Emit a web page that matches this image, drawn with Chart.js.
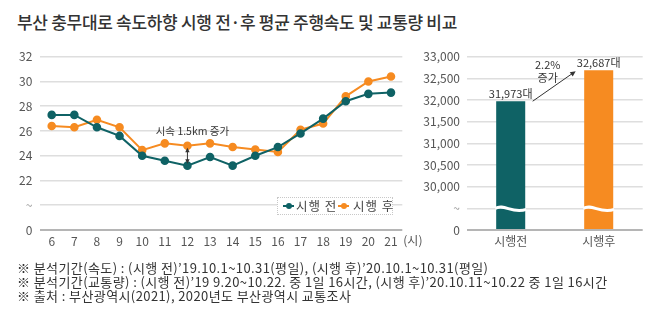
<!DOCTYPE html>
<html><head><meta charset="utf-8">
<script src="https://cdn.jsdelivr.net/npm/chart.js@4.4.1/dist/chart.umd.min.js"></script>
<style>
body{margin:0;background:#fff;width:660px;height:329px;overflow:hidden;position:relative;font-family:"Noto Sans CJK KR","Noto Sans",sans-serif;}
#title{position:absolute;left:17px;top:12px;font-size:17px;font-weight:500;color:#333;white-space:nowrap;letter-spacing:-0.3px;line-height:20px}
#c1{position:absolute;left:0;top:0}
#c2{position:absolute;left:415px;top:0}
#legend{position:absolute;left:277px;top:197px;width:114px;height:16px;border:1px dotted #c8c8c8;background:#fff;font-size:12.5px;color:#444;line-height:16px;white-space:nowrap;letter-spacing:1px}
#legend .mk{position:absolute;top:7px;width:11px;height:2px}
#legend .mk i{position:absolute;left:3px;top:-2px;width:6px;height:6px;border-radius:50%}
#legend .tx{position:absolute;top:0}
#notes{position:absolute;left:17px;top:261px;font-size:13px;line-height:14px;color:#333;white-space:nowrap;letter-spacing:0.4px}
</style></head>
<body>
<div id="title">부산 충무대로 속도하향 시행 전·후 평균 주행속도 및 교통량 비교</div>
<canvas id="c1" width="430" height="260"></canvas>
<canvas id="c2" width="245" height="260"></canvas>
<div id="legend">
  <div class="mk" style="left:5px;background:#0f6265"><i style="background:#0f6265"></i></div>
  <div class="tx" style="left:18px">시행 전</div>
  <div class="mk" style="left:60px;background:#f68b21"><i style="background:#f68b21"></i></div>
  <div class="tx" style="left:75px">시행 후</div>
</div>
<div id="notes">※ 분석기간(속도) : (시행 전)’19.10.1~10.31(평일), (시행 후)’20.10.1~10.31(평일)<br>※ 분석기간(교통량) : (시행 전)’19 9.20~10.22. 중 1일 16시간, (시행 후)’20.10.11~10.22 중 1일 16시간<br>※ 출처 : 부산광역시(2021), 2020년도 부산광역시 교통조사</div>
<script>
// ---- data ----
const hours = ['6','7','8','9','10','11','12','13','14','15','16','17','18','19','20','21'];
const speedBefore = [27.3,27.3,26.3,25.6,24.0,23.6,23.2,23.9,23.2,24.0,24.7,25.8,27.0,28.4,29.0,29.1];
const speedAfter  = [26.4,26.3,26.9,26.3,24.45,25.0,24.8,25.0,24.7,24.5,24.3,26.1,26.6,28.8,30.0,30.4];
const speedTicks  = ['0','~','22','24','26','28','30','32'];
const seriesNames = ['시행 전','시행 후'];
const volumeLabels = ['시행전','시행후'];
const volumeValues = [31973, 32687];
const volumeTicks  = ['0','~','30,000','30,500','31,000','31,500','32,000','32,500','33,000'];

// broken-axis mapping (0 and "~" slots below the visible range)
const speedPos  = v => (v - 18) / 2;       // 22 -> slot 2 ... 32 -> slot 7
const volumePos = v => (v - 29000) / 500;  // 30,000 -> slot 2 ... 33,000 -> slot 8

const FONT = '"Noto Sans CJK KR","Noto Sans",sans-serif';
const TEAL = '#0f6265', ORANGE = '#f68b21';
Chart.defaults.font.family = FONT;

const gridColor = c => c.tick.value === 0 ? '#b5b5b5' : '#dedede';
const gridWidth = c => c.tick.value === 0 ? 2 : 1.5;
const tickColor = c => (c.tick && c.tick.value === 1) ? '#999' : '#555';

function arrowHead(ctx, x, y, ang, size){
  ctx.beginPath();
  ctx.moveTo(x, y);
  ctx.lineTo(x - size*Math.cos(ang - 0.45), y - size*Math.sin(ang - 0.45));
  ctx.lineTo(x - size*Math.cos(ang + 0.45), y - size*Math.sin(ang + 0.45));
  ctx.closePath(); ctx.fill();
}

const speedNotes = {
  id:'speedNotes',
  afterDatasetsDraw(chart){
    const {ctx, scales:{x,y}, chartArea} = chart;
    const i = hours.indexOf('12');
    const px = x.getPixelForValue(i);
    const yA = y.getPixelForValue(speedPos(speedAfter[i]));
    const yB = y.getPixelForValue(speedPos(speedBefore[i]));
    ctx.save();
    ctx.strokeStyle = '#333'; ctx.fillStyle = '#333'; ctx.lineWidth = 1;
    ctx.beginPath(); ctx.moveTo(px, yA + 4); ctx.lineTo(px, yB - 4); ctx.stroke();
    arrowHead(ctx, px, yA + 2, -Math.PI/2, 5);
    arrowHead(ctx, px, yB - 2, Math.PI/2, 5);
    ctx.font = '10.5px ' + FONT; ctx.textAlign = 'center'; ctx.textBaseline = 'middle';
    ctx.fillText('시속 1.5km 증가', px + 5, yA - 15);
    ctx.fillStyle = '#555'; ctx.font = '12px ' + FONT; ctx.textAlign = 'left';
    ctx.fillText('(시)', chartArea.right + 1, chartArea.bottom + 10);
    ctx.restore();
  }
};

new Chart(document.getElementById('c1'), {
  type:'line',
  data:{
    labels: hours,
    datasets:[
      {label:seriesNames[0], data:speedBefore.map(speedPos), borderColor:TEAL, backgroundColor:TEAL, pointBackgroundColor:TEAL, pointBorderColor:TEAL, borderWidth:2, pointRadius:3.3, tension:0},
      {label:seriesNames[1], data:speedAfter.map(speedPos), borderColor:ORANGE, backgroundColor:ORANGE, pointBackgroundColor:ORANGE, pointBorderColor:ORANGE, borderWidth:2, pointRadius:3.3, tension:0}
    ]
  },
  options:{
    responsive:false, animation:false,
    layout:{padding:{top:56.7, left:0, right:27.7, bottom:0}},
    plugins:{legend:{display:false}, tooltip:{enabled:false}},
    scales:{
      x:{offset:true, grid:{display:false, drawTicks:false}, border:{display:false},
         ticks:{padding:4, color:'#555', font:{size:12}}, afterFit(s){ s.height = 30; }},
      y:{min:0, max:7, border:{display:false},
         grid:{drawTicks:false, color:gridColor, lineWidth:gridWidth},
         ticks:{stepSize:1, padding:8, color:tickColor, font:{size:12}, callback:v => speedTicks[v]},
         afterFit(s){ s.width = 40.4; }}
    }
  },
  plugins:[speedNotes]
});

const volumeNotes = {
  id:'volumeNotes',
  afterDatasetsDraw(chart){
    const {ctx, scales:{y}} = chart;
    const meta = chart.getDatasetMeta(0);
    const yBreak = y.getPixelForValue(1);
    ctx.save();
    // wavy break across each bar
    meta.data.forEach(bar => {
      const l = bar.x - bar.width/2 - 1, r = bar.x + bar.width/2 + 1, w = r - l;
      ctx.strokeStyle = '#fff'; ctx.lineWidth = 3;
      ctx.beginPath();
      ctx.moveTo(l, yBreak);
      ctx.bezierCurveTo(l + w*0.3, yBreak - 5, l + w*0.55, yBreak + 6, r, yBreak + 1);
      ctx.stroke();
    });
    // value labels
    ctx.fillStyle = '#333'; ctx.font = '11px ' + FONT; ctx.textAlign = 'center'; ctx.textBaseline = 'bottom';
    meta.data.forEach((bar, i) => {
      ctx.fillText(volumeValues[i].toLocaleString('en-US') + '대', bar.x, bar.y - 2);
    });
    // growth arrow
    const b0 = meta.data[0], b1 = meta.data[1];
    const x0 = b0.x + 22, y0 = b0.y, x1 = b1.x - 23, y1 = b1.y + 1;
    ctx.strokeStyle = '#333'; ctx.lineWidth = 1;
    ctx.beginPath(); ctx.moveTo(x0, y0); ctx.lineTo(x1 - 2, y1 + 1.3); ctx.stroke();
    arrowHead(ctx, x1, y1, Math.atan2(y1 - y0, x1 - x0), 6);
    const pct = ((volumeValues[1] - volumeValues[0]) / volumeValues[0] * 100).toFixed(1);
    ctx.textBaseline = 'middle';
    ctx.fillText(pct + '%', (b0.x + b1.x)/2 - 7, b1.y - 5);
    ctx.fillText('증가', (b0.x + b1.x)/2 - 7, b1.y + 8);
    ctx.restore();
  }
};

new Chart(document.getElementById('c2'), {
  type:'bar',
  data:{
    labels: volumeLabels,
    datasets:[{data: volumeValues.map(volumePos), backgroundColor:[TEAL, ORANGE], barPercentage:0.33, categoryPercentage:1}]
  },
  options:{
    responsive:false, animation:false,
    layout:{padding:{top:56.7, left:0, right:17.3, bottom:0}},
    plugins:{legend:{display:false}, tooltip:{enabled:false}},
    scales:{
      x:{grid:{display:false, drawTicks:false}, border:{display:false},
         ticks:{padding:4, color:'#555', font:{size:12}}, afterFit(s){ s.height = 30; }},
      y:{min:0, max:8, border:{display:false},
         grid:{drawTicks:false, color:gridColor, lineWidth:gridWidth},
         ticks:{stepSize:1, padding:6.7, color:tickColor, font:{size:12}, callback:v => volumeTicks[v]},
         afterFit(s){ s.width = 51.7; }}
    }
  },
  plugins:[volumeNotes]
});
</script>
</body></html>
